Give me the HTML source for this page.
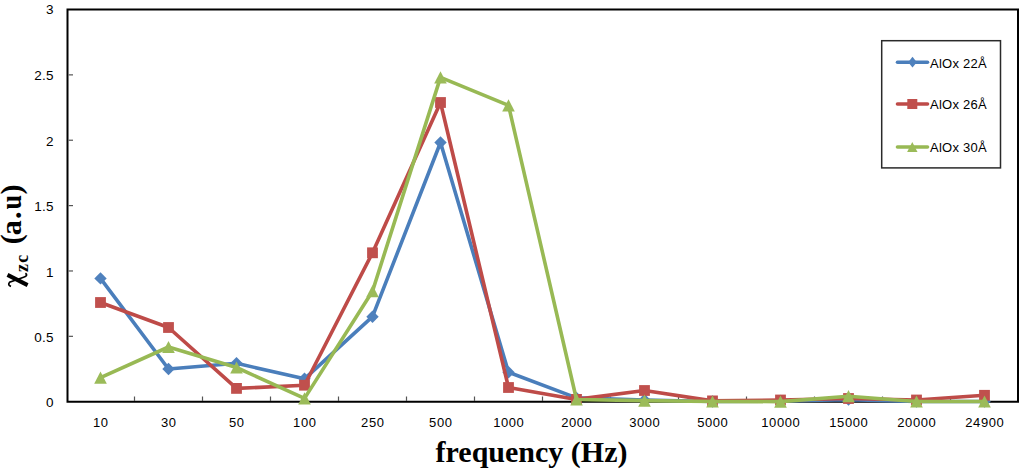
<!DOCTYPE html><html><head><meta charset="utf-8"><style>html,body{margin:0;padding:0;background:#fff;width:1024px;height:474px;overflow:hidden}svg{display:block}</style></head><body>
<svg width="1024" height="474" viewBox="0 0 1024 474">
<rect width="1024" height="474" fill="#fff"/>
<path d="M67.5 9.5H1018.0V401.7H67.5Z" fill="none" stroke="#000" stroke-width="2"/>
<line x1="68.5" y1="336.33" x2="73" y2="336.33" stroke="#555" stroke-width="1.2"/>
<line x1="68.5" y1="270.97" x2="73" y2="270.97" stroke="#555" stroke-width="1.2"/>
<line x1="68.5" y1="205.60" x2="73" y2="205.60" stroke="#555" stroke-width="1.2"/>
<line x1="68.5" y1="140.23" x2="73" y2="140.23" stroke="#555" stroke-width="1.2"/>
<line x1="68.5" y1="74.87" x2="73" y2="74.87" stroke="#555" stroke-width="1.2"/>
<line x1="134.50" y1="396.5" x2="134.50" y2="401" stroke="#555" stroke-width="1.2"/>
<line x1="202.50" y1="396.5" x2="202.50" y2="401" stroke="#555" stroke-width="1.2"/>
<line x1="270.50" y1="396.5" x2="270.50" y2="401" stroke="#555" stroke-width="1.2"/>
<line x1="338.50" y1="396.5" x2="338.50" y2="401" stroke="#555" stroke-width="1.2"/>
<line x1="406.50" y1="396.5" x2="406.50" y2="401" stroke="#555" stroke-width="1.2"/>
<line x1="474.50" y1="396.5" x2="474.50" y2="401" stroke="#555" stroke-width="1.2"/>
<line x1="542.50" y1="396.5" x2="542.50" y2="401" stroke="#555" stroke-width="1.2"/>
<line x1="610.50" y1="396.5" x2="610.50" y2="401" stroke="#555" stroke-width="1.2"/>
<line x1="678.50" y1="396.5" x2="678.50" y2="401" stroke="#555" stroke-width="1.2"/>
<line x1="746.50" y1="396.5" x2="746.50" y2="401" stroke="#555" stroke-width="1.2"/>
<line x1="814.50" y1="396.5" x2="814.50" y2="401" stroke="#555" stroke-width="1.2"/>
<line x1="882.50" y1="396.5" x2="882.50" y2="401" stroke="#555" stroke-width="1.2"/>
<line x1="950.50" y1="396.5" x2="950.50" y2="401" stroke="#555" stroke-width="1.2"/>
<text x="53.70" y="407.30" text-anchor="end" letter-spacing="0.2" font-family="&quot;Liberation Sans&quot;, sans-serif" font-size="13.5" fill="#000">0</text>
<text x="53.70" y="341.93" text-anchor="end" letter-spacing="0.2" font-family="&quot;Liberation Sans&quot;, sans-serif" font-size="13.5" fill="#000">0.5</text>
<text x="53.70" y="276.57" text-anchor="end" letter-spacing="0.2" font-family="&quot;Liberation Sans&quot;, sans-serif" font-size="13.5" fill="#000">1</text>
<text x="53.70" y="211.20" text-anchor="end" letter-spacing="0.2" font-family="&quot;Liberation Sans&quot;, sans-serif" font-size="13.5" fill="#000">1.5</text>
<text x="53.70" y="145.83" text-anchor="end" letter-spacing="0.2" font-family="&quot;Liberation Sans&quot;, sans-serif" font-size="13.5" fill="#000">2</text>
<text x="53.70" y="80.47" text-anchor="end" letter-spacing="0.2" font-family="&quot;Liberation Sans&quot;, sans-serif" font-size="13.5" fill="#000">2.5</text>
<text x="53.70" y="14.30" text-anchor="end" letter-spacing="0.2" font-family="&quot;Liberation Sans&quot;, sans-serif" font-size="13.5" fill="#000">3</text>
<text x="100.80" y="427" text-anchor="middle" letter-spacing="0.6" font-family="&quot;Liberation Sans&quot;, sans-serif" font-size="13" fill="#000">10</text>
<text x="168.80" y="427" text-anchor="middle" letter-spacing="0.6" font-family="&quot;Liberation Sans&quot;, sans-serif" font-size="13" fill="#000">30</text>
<text x="236.80" y="427" text-anchor="middle" letter-spacing="0.6" font-family="&quot;Liberation Sans&quot;, sans-serif" font-size="13" fill="#000">50</text>
<text x="304.80" y="427" text-anchor="middle" letter-spacing="0.6" font-family="&quot;Liberation Sans&quot;, sans-serif" font-size="13" fill="#000">100</text>
<text x="372.80" y="427" text-anchor="middle" letter-spacing="0.6" font-family="&quot;Liberation Sans&quot;, sans-serif" font-size="13" fill="#000">250</text>
<text x="440.80" y="427" text-anchor="middle" letter-spacing="0.6" font-family="&quot;Liberation Sans&quot;, sans-serif" font-size="13" fill="#000">500</text>
<text x="508.80" y="427" text-anchor="middle" letter-spacing="0.6" font-family="&quot;Liberation Sans&quot;, sans-serif" font-size="13" fill="#000">1000</text>
<text x="576.80" y="427" text-anchor="middle" letter-spacing="0.6" font-family="&quot;Liberation Sans&quot;, sans-serif" font-size="13" fill="#000">2000</text>
<text x="644.80" y="427" text-anchor="middle" letter-spacing="0.6" font-family="&quot;Liberation Sans&quot;, sans-serif" font-size="13" fill="#000">3000</text>
<text x="712.80" y="427" text-anchor="middle" letter-spacing="0.6" font-family="&quot;Liberation Sans&quot;, sans-serif" font-size="13" fill="#000">5000</text>
<text x="780.80" y="427" text-anchor="middle" letter-spacing="0.6" font-family="&quot;Liberation Sans&quot;, sans-serif" font-size="13" fill="#000">10000</text>
<text x="848.80" y="427" text-anchor="middle" letter-spacing="0.6" font-family="&quot;Liberation Sans&quot;, sans-serif" font-size="13" fill="#000">15000</text>
<text x="916.80" y="427" text-anchor="middle" letter-spacing="0.6" font-family="&quot;Liberation Sans&quot;, sans-serif" font-size="13" fill="#000">20000</text>
<text x="984.80" y="427" text-anchor="middle" letter-spacing="0.6" font-family="&quot;Liberation Sans&quot;, sans-serif" font-size="13" fill="#000">24900</text>
<polyline points="100.50,278.40 168.50,369.00 236.50,363.30 304.50,378.80 372.50,316.70 440.50,142.50 508.50,372.30 576.50,397.90 644.50,400.00 712.50,401.50 780.50,401.00 848.50,399.60 916.50,401.50 984.50,401.50" fill="none" stroke="#4a7ebb" stroke-width="3.6" stroke-linejoin="round" stroke-linecap="round"/>
<path d="M100.50 272.20L106.70 278.40L100.50 284.60L94.30 278.40Z" fill="#4f81bd"/>
<path d="M168.50 362.80L174.70 369.00L168.50 375.20L162.30 369.00Z" fill="#4f81bd"/>
<path d="M236.50 357.10L242.70 363.30L236.50 369.50L230.30 363.30Z" fill="#4f81bd"/>
<path d="M304.50 372.60L310.70 378.80L304.50 385.00L298.30 378.80Z" fill="#4f81bd"/>
<path d="M372.50 310.50L378.70 316.70L372.50 322.90L366.30 316.70Z" fill="#4f81bd"/>
<path d="M440.50 136.30L446.70 142.50L440.50 148.70L434.30 142.50Z" fill="#4f81bd"/>
<path d="M508.50 366.10L514.70 372.30L508.50 378.50L502.30 372.30Z" fill="#4f81bd"/>
<path d="M576.50 391.70L582.70 397.90L576.50 404.10L570.30 397.90Z" fill="#4f81bd"/>
<path d="M644.50 393.80L650.70 400.00L644.50 406.20L638.30 400.00Z" fill="#4f81bd"/>
<path d="M712.50 395.30L718.70 401.50L712.50 407.70L706.30 401.50Z" fill="#4f81bd"/>
<path d="M780.50 394.80L786.70 401.00L780.50 407.20L774.30 401.00Z" fill="#4f81bd"/>
<path d="M848.50 393.40L854.70 399.60L848.50 405.80L842.30 399.60Z" fill="#4f81bd"/>
<path d="M916.50 395.30L922.70 401.50L916.50 407.70L910.30 401.50Z" fill="#4f81bd"/>
<path d="M984.50 395.30L990.70 401.50L984.50 407.70L978.30 401.50Z" fill="#4f81bd"/>
<polyline points="100.50,302.50 168.50,327.50 236.50,388.40 304.50,385.20 372.50,252.80 440.50,102.50 508.50,387.50 576.50,399.40 644.50,390.50 712.50,400.90 780.50,400.00 848.50,398.50 916.50,400.00 984.50,395.30" fill="none" stroke="#be4b48" stroke-width="3.6" stroke-linejoin="round" stroke-linecap="round"/>
<rect x="95.10" y="297.10" width="10.80" height="10.80" fill="#c0504d"/>
<rect x="163.10" y="322.10" width="10.80" height="10.80" fill="#c0504d"/>
<rect x="231.10" y="383.00" width="10.80" height="10.80" fill="#c0504d"/>
<rect x="299.10" y="379.80" width="10.80" height="10.80" fill="#c0504d"/>
<rect x="367.10" y="247.40" width="10.80" height="10.80" fill="#c0504d"/>
<rect x="435.10" y="97.10" width="10.80" height="10.80" fill="#c0504d"/>
<rect x="503.10" y="382.10" width="10.80" height="10.80" fill="#c0504d"/>
<rect x="571.10" y="394.00" width="10.80" height="10.80" fill="#c0504d"/>
<rect x="639.10" y="385.10" width="10.80" height="10.80" fill="#c0504d"/>
<rect x="707.10" y="395.50" width="10.80" height="10.80" fill="#c0504d"/>
<rect x="775.10" y="394.60" width="10.80" height="10.80" fill="#c0504d"/>
<rect x="843.10" y="393.10" width="10.80" height="10.80" fill="#c0504d"/>
<rect x="911.10" y="394.60" width="10.80" height="10.80" fill="#c0504d"/>
<rect x="979.10" y="389.90" width="10.80" height="10.80" fill="#c0504d"/>
<polyline points="100.50,377.60 168.50,347.00 236.50,367.50 304.50,398.40 372.50,291.20 440.50,77.40 508.50,105.30 576.50,399.50 644.50,400.60 712.50,401.50 780.50,401.60 848.50,396.20 916.50,401.50 984.50,401.50" fill="none" stroke="#98b954" stroke-width="3.6" stroke-linejoin="round" stroke-linecap="round"/>
<path d="M100.50 371.50L106.80 383.70L94.20 383.70Z" fill="#9bbb59"/>
<path d="M168.50 340.90L174.80 353.10L162.20 353.10Z" fill="#9bbb59"/>
<path d="M236.50 361.40L242.80 373.60L230.20 373.60Z" fill="#9bbb59"/>
<path d="M304.50 392.30L310.80 404.50L298.20 404.50Z" fill="#9bbb59"/>
<path d="M372.50 285.10L378.80 297.30L366.20 297.30Z" fill="#9bbb59"/>
<path d="M440.50 71.30L446.80 83.50L434.20 83.50Z" fill="#9bbb59"/>
<path d="M508.50 99.20L514.80 111.40L502.20 111.40Z" fill="#9bbb59"/>
<path d="M576.50 393.40L582.80 405.60L570.20 405.60Z" fill="#9bbb59"/>
<path d="M644.50 394.50L650.80 406.70L638.20 406.70Z" fill="#9bbb59"/>
<path d="M712.50 395.40L718.80 407.60L706.20 407.60Z" fill="#9bbb59"/>
<path d="M780.50 395.50L786.80 407.70L774.20 407.70Z" fill="#9bbb59"/>
<path d="M848.50 390.10L854.80 402.30L842.20 402.30Z" fill="#9bbb59"/>
<path d="M916.50 395.40L922.80 407.60L910.20 407.60Z" fill="#9bbb59"/>
<path d="M984.50 395.40L990.80 407.60L978.20 407.60Z" fill="#9bbb59"/>
<rect x="881.7" y="40.7" width="118.8" height="127.2" fill="#fff" stroke="#2a2a2a" stroke-width="1.5"/>
<line x1="897.5" y1="62.2" x2="927.5" y2="62.2" stroke="#4a7ebb" stroke-width="3.6" stroke-linecap="round"/>
<path d="M912.50 56.80L916.80 62.20L912.50 67.60L908.20 62.20Z" fill="#4f81bd"/>
<text x="930" y="67.50" letter-spacing="0.25" font-family="&quot;Liberation Sans&quot;, sans-serif" font-size="13" fill="#000">AlOx 22Å</text>
<line x1="897.5" y1="104.0" x2="927.5" y2="104.0" stroke="#be4b48" stroke-width="3.6" stroke-linecap="round"/>
<rect x="907.30" y="99.00" width="10.00" height="10.00" fill="#c0504d"/>
<text x="930" y="109.30" letter-spacing="0.25" font-family="&quot;Liberation Sans&quot;, sans-serif" font-size="13" fill="#000">AlOx 26Å</text>
<line x1="897.5" y1="147.0" x2="927.5" y2="147.0" stroke="#98b954" stroke-width="3.6" stroke-linecap="round"/>
<path d="M912.30 142.00L917.50 152.00L907.10 152.00Z" fill="#9bbb59"/>
<text x="930" y="152.30" letter-spacing="0.25" font-family="&quot;Liberation Sans&quot;, sans-serif" font-size="13" fill="#000">AlOx 30Å</text>
<text x="531.5" y="461.5" text-anchor="middle" font-family="&quot;Liberation Serif&quot;, serif" font-weight="bold" font-size="30" fill="#000">frequency (Hz)</text>
<g transform="translate(21,287) rotate(-90)" font-family="&quot;Liberation Serif&quot;, serif" font-weight="bold" fill="#000">
<text x="42.7 51.7 67.9 92.6" y="0" font-size="30">(a.)</text>
<text transform="translate(77.6,0) scale(0.87,1)" x="0" y="0" font-size="30">u</text>
<text x="14.9 24.2" y="6.9" font-size="18">zc</text>
</g>
<line x1="7.5" y1="274.9" x2="27.6" y2="285.1" stroke="#000" stroke-width="4"/>
<path d="M11,286.4 Q7.3,285.2 9.6,282.2 L23.6,277.2 Q28.6,275.6 25.4,273.2" fill="none" stroke="#000" stroke-width="1.7"/>
</svg></body></html>
